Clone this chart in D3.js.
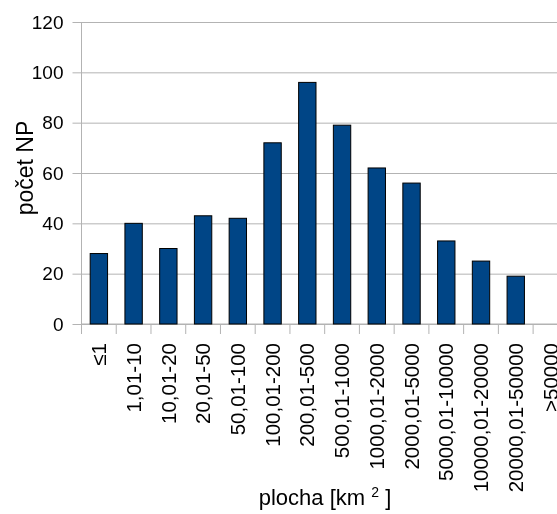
<!DOCTYPE html>
<html>
  <head>
    <meta charset="utf-8">
    <title></title>
    <style type="text/css">
        html, body{
            padding: 0px;
            margin: 0px;
            background: #ffffff;
            font-family: "Liberation Sans", Arial, sans-serif;
        }
        #vis{
            position: fixed;
            top: 0px;
            left: 0px;
        }
    </style>
  </head>
  <body>
    <div id="vis"></div>
    <script src="https://cdnjs.cloudflare.com/ajax/libs/d3/7.8.5/d3.min.js"></script>
    <script type="text/javascript">

        // kategorie plochy a počty NP
        var categories = ["≤1", "1,01-10", "10,01-20", "20,01-50", "50,01-100",
                          "100,01-200", "200,01-500", "500,01-1000", "1000,01-2000",
                          "2000,01-5000", "5000,01-10000", "10000,01-20000",
                          "20000,01-50000", ">50000"];
        var counts = [28, 40, 30, 43, 42, 72, 96, 79, 62, 56, 33, 25, 19, 0];
        var yTicks = [0, 20, 40, 60, 80, 100, 120];

        var width = 557,
            height = 514;

        // plot area (runs past the right edge, like the original)
        var plotLeft = 81.5,
            plotTop = 22,
            plotBottom = 324,
            plotRight = plotLeft + 14 * 34.74;

        var svg = d3.select("#vis").append("svg")
            .attr("width", width)
            .attr("height", height);

        var x = d3.scaleBand()
            .domain(categories)
            .range([plotLeft, plotRight])
            .paddingInner(0.5)
            .paddingOuter(0.25);

        var y = d3.scaleLinear()
            .domain([0, 120])
            .range([plotBottom, plotTop]);

        var grid = "#b3b3b3";

        // horizontal grid + y ticks
        var yAxis = svg.append("g")
            .attr("transform", "translate(" + plotLeft + ",0)")
            .call(d3.axisLeft(y).tickValues(yTicks).tickSize(9).tickPadding(9));
        yAxis.select(".domain").remove();
        yAxis.selectAll(".tick line").attr("stroke", grid);
        yAxis.selectAll(".tick").append("line")
            .attr("x1", 0)
            .attr("x2", width - plotLeft)
            .attr("stroke", grid);
        yAxis.selectAll("text")
            .attr("font-size", "19px")
            .attr("font-family", "Liberation Sans, Arial, sans-serif")
            .attr("fill", "#000");

        // vertical axis line
        svg.append("line")
            .attr("x1", plotLeft).attr("x2", plotLeft)
            .attr("y1", plotTop).attr("y2", plotBottom)
            .attr("stroke", grid);

        // bottom axis line with boundary ticks
        svg.append("line")
            .attr("x1", plotLeft).attr("x2", width)
            .attr("y1", plotBottom).attr("y2", plotBottom)
            .attr("stroke", grid);

        var step = x.step();
        svg.append("g").selectAll("line")
            .data(d3.range(categories.length + 1))
            .enter().append("line")
            .attr("x1", function(i) { return plotLeft + i * step; })
            .attr("x2", function(i) { return plotLeft + i * step; })
            .attr("y1", plotBottom)
            .attr("y2", plotBottom + 10)
            .attr("stroke", grid);

        // bars
        svg.append("g").selectAll("rect")
            .data(counts.map(function(v, i) { return {cat: categories[i], v: v}; })
                        .filter(function(d) { return d.v > 0; }))
            .enter().append("rect")
            .attr("x", function(d) { return x(d.cat); })
            .attr("y", function(d) { return y(d.v); })
            .attr("width", x.bandwidth())
            .attr("height", function(d) { return y(0) - y(d.v); })
            .attr("fill", "#004586")
            .attr("stroke", "#000")
            .attr("stroke-width", 1);

        // category labels, rotated
        svg.append("g").selectAll("text")
            .data(categories)
            .enter().append("text")
            .attr("transform", function(d) {
                return "translate(" + (x(d) + x.bandwidth() / 2) + "," + (plotBottom + 19) + ") rotate(-90)";
            })
            .attr("dy", "0.35em")
            .attr("text-anchor", "end")
            .attr("font-size", "20.5px")
            .text(function(d) { return d; });

        // axis titles
        svg.append("text")
            .attr("transform", "translate(33," + ((plotTop + plotBottom) / 2 - 5) + ") rotate(-90)")
            .attr("text-anchor", "middle")
            .attr("font-size", "23px")
            .text("počet NP");

        var xt = svg.append("text")
            .attr("x", 325)
            .attr("y", 505)
            .attr("text-anchor", "middle")
            .attr("font-size", "22px");
        xt.append("tspan").text("plocha [km ");
        xt.append("tspan").attr("font-size", "14px").attr("dy", "-8").text("2");
        xt.append("tspan").attr("dy", "8").text(" ]");

    </script>
  </body>
</html>
